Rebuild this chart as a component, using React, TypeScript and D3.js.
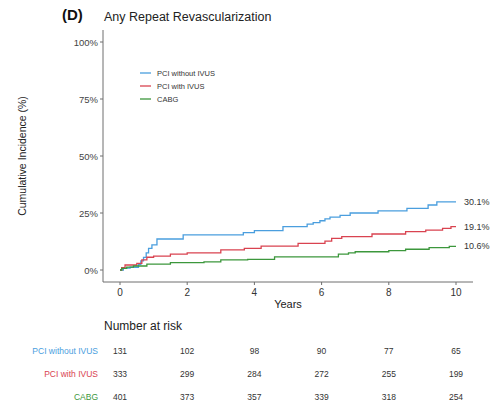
import React from "react";
import * as d3 from "d3";

const seriesNames = ["PCI without IVUS", "PCI with IVUS", "CABG"];
const seriesColors = ["#4a9ede", "#d94350", "#3c973c"];
const endLabels = ["30.1%", "19.1%", "10.6%"];

const blueTimes = [0, 0.1, 0.3, 0.55, 0.62, 0.7, 0.78, 0.85, 0.95, 1.1, 1.88, 3.67, 4.0, 4.85, 5.57, 5.75, 5.95, 6.1, 6.25, 6.55, 6.85, 7.68, 8.54, 9.17, 9.43, 10];
const blueValues = [0, 0.8, 1.2, 2.5, 4, 5.5, 7.5, 9.5, 11, 13.6, 15.4, 16.4, 17.3, 19, 20.1, 20.8, 21.6, 22.4, 23.2, 24, 25, 25.9, 27, 28.5, 29.9, 29.9];

const redTimes = [0, 0.05, 0.15, 0.5, 0.65, 0.8, 1.0, 1.5, 2, 3, 3.7, 4.2, 5.3, 6.1, 6.3, 6.6, 7.5, 8.5, 9.1, 9.6, 9.85, 10];
const redValues = [0, 1, 2.2, 2.9, 4.4, 5.6, 6.1, 7, 7.5, 8.8, 9.5, 10.5, 11.7, 12.7, 13.9, 14.6, 15.8, 16.8, 17.5, 18.3, 19.0, 19.0];

const greenTimes = [0, 0.05, 0.2, 0.4, 0.8, 1.5, 2.5, 3, 3.8, 4.6, 6.5, 6.8, 7, 8, 8.5, 9.2, 9.8, 10];
const greenValues = [0, 0.7, 1.3, 1.75, 2.6, 3.2, 3.6, 4.4, 4.7, 5.8, 7, 7.5, 8, 8.5, 9.1, 9.8, 10.4, 10.4];

const xTicks = [0, 2, 4, 6, 8, 10];
const yTicks = [0, 25, 50, 75, 100];
const yTickLabels = ["0%", "25%", "50%", "75%", "100%"];

const riskWithoutIvus = [131, 102, 98, 90, 77, 65];
const riskWithIvus = [333, 299, 284, 272, 255, 199];
const riskCabg = [401, 373, 357, 339, 318, 254];

const FONT = "'Liberation Sans', Arial, Helvetica, sans-serif";

export default function App() {
  const x = d3.scaleLinear().domain([0, 10]).range([120, 456]);
  const y = d3.scaleLinear().domain([0, 100]).range([270, 42]);
  const axisColor = "#6e6e6e";
  const axisX = 103;
  const axisY = 282;

  const series = [
    { times: blueTimes, values: blueValues },
    { times: redTimes, values: redValues },
    { times: greenTimes, values: greenValues },
  ];
  const risks = [riskWithoutIvus, riskWithIvus, riskCabg];

  const line = d3
    .line<[number, number]>()
    .x((d) => x(d[0]))
    .y((d) => y(d[1]))
    .curve(d3.curveStepAfter);

  const riskRowY = [354, 377, 400];
  const legendY = [73, 86, 99];

  return (
    <svg width={491} height={404} style={{ position: "absolute", left: 0, top: 0, background: "#fff" }} fontFamily={FONT}>
      <text x={62} y={20} fontSize={15} fontWeight="bold" fill="#111">(D)</text>
      <text x={104} y={21} fontSize={12.5} fill="#222">Any Repeat Revascularization</text>

      {/* axes */}
      <line x1={axisX} x2={axisX} y1={30} y2={axisY} stroke={axisColor} strokeWidth={1} />
      <line x1={axisX} x2={473} y1={axisY} y2={axisY} stroke={axisColor} strokeWidth={1} />
      {yTicks.map((t, i) => (
        <g key={"yt" + t}>
          <line x1={axisX - 3} x2={axisX} y1={y(t)} y2={y(t)} stroke={axisColor} />
          <text x={axisX - 5} y={y(t) + 3.5} fontSize={9.5} textAnchor="end" fill="#444">{yTickLabels[i]}</text>
        </g>
      ))}
      {xTicks.map((t) => (
        <g key={"xt" + t}>
          <line x1={x(t)} x2={x(t)} y1={axisY} y2={axisY + 3} stroke={axisColor} />
          <text x={x(t)} y={axisY + 14} fontSize={10} textAnchor="middle" fill="#333">{t}</text>
        </g>
      ))}
      <text x={x(5)} y={308} fontSize={11} textAnchor="middle" fill="#222">Years</text>
      <text transform={`translate(26,${y(50)}) rotate(-90)`} fontSize={10.5} textAnchor="middle" fill="#222">Cumulative Incidence (%)</text>

      {/* curves */}
      {series.map((s, i) => (
        <path
          key={"s" + i}
          d={line(s.times.map((t, j) => [t, s.values[j]] as [number, number])) || ""}
          fill="none"
          stroke={seriesColors[i]}
          strokeWidth={1.3}
        />
      ))}
      {series.map((s, i) => (
        <text key={"el" + i} x={464} y={y(s.values[s.values.length - 1]) + 3} fontSize={9} fill="#333">{endLabels[i]}</text>
      ))}

      {/* legend */}
      {seriesNames.map((n, i) => (
        <g key={"lg" + i}>
          <line x1={140} x2={151} y1={legendY[i]} y2={legendY[i]} stroke={seriesColors[i]} strokeWidth={1.3} />
          <text x={157} y={legendY[i] + 2.8} fontSize={7.5} fill="#333">{n}</text>
        </g>
      ))}

      {/* number at risk */}
      <text x={104} y={330} fontSize={12} fill="#222">Number at risk</text>
      {risks.map((row, i) => (
        <g key={"r" + i}>
          <text x={98} y={riskRowY[i]} fontSize={8.5} textAnchor="end" fill={seriesColors[i]}>{seriesNames[i]}</text>
          {row.map((v, j) => (
            <text key={j} x={x(xTicks[j])} y={riskRowY[i]} fontSize={8.5} textAnchor="middle" fill="#333">{v}</text>
          ))}
        </g>
      ))}
    </svg>
  );
}
